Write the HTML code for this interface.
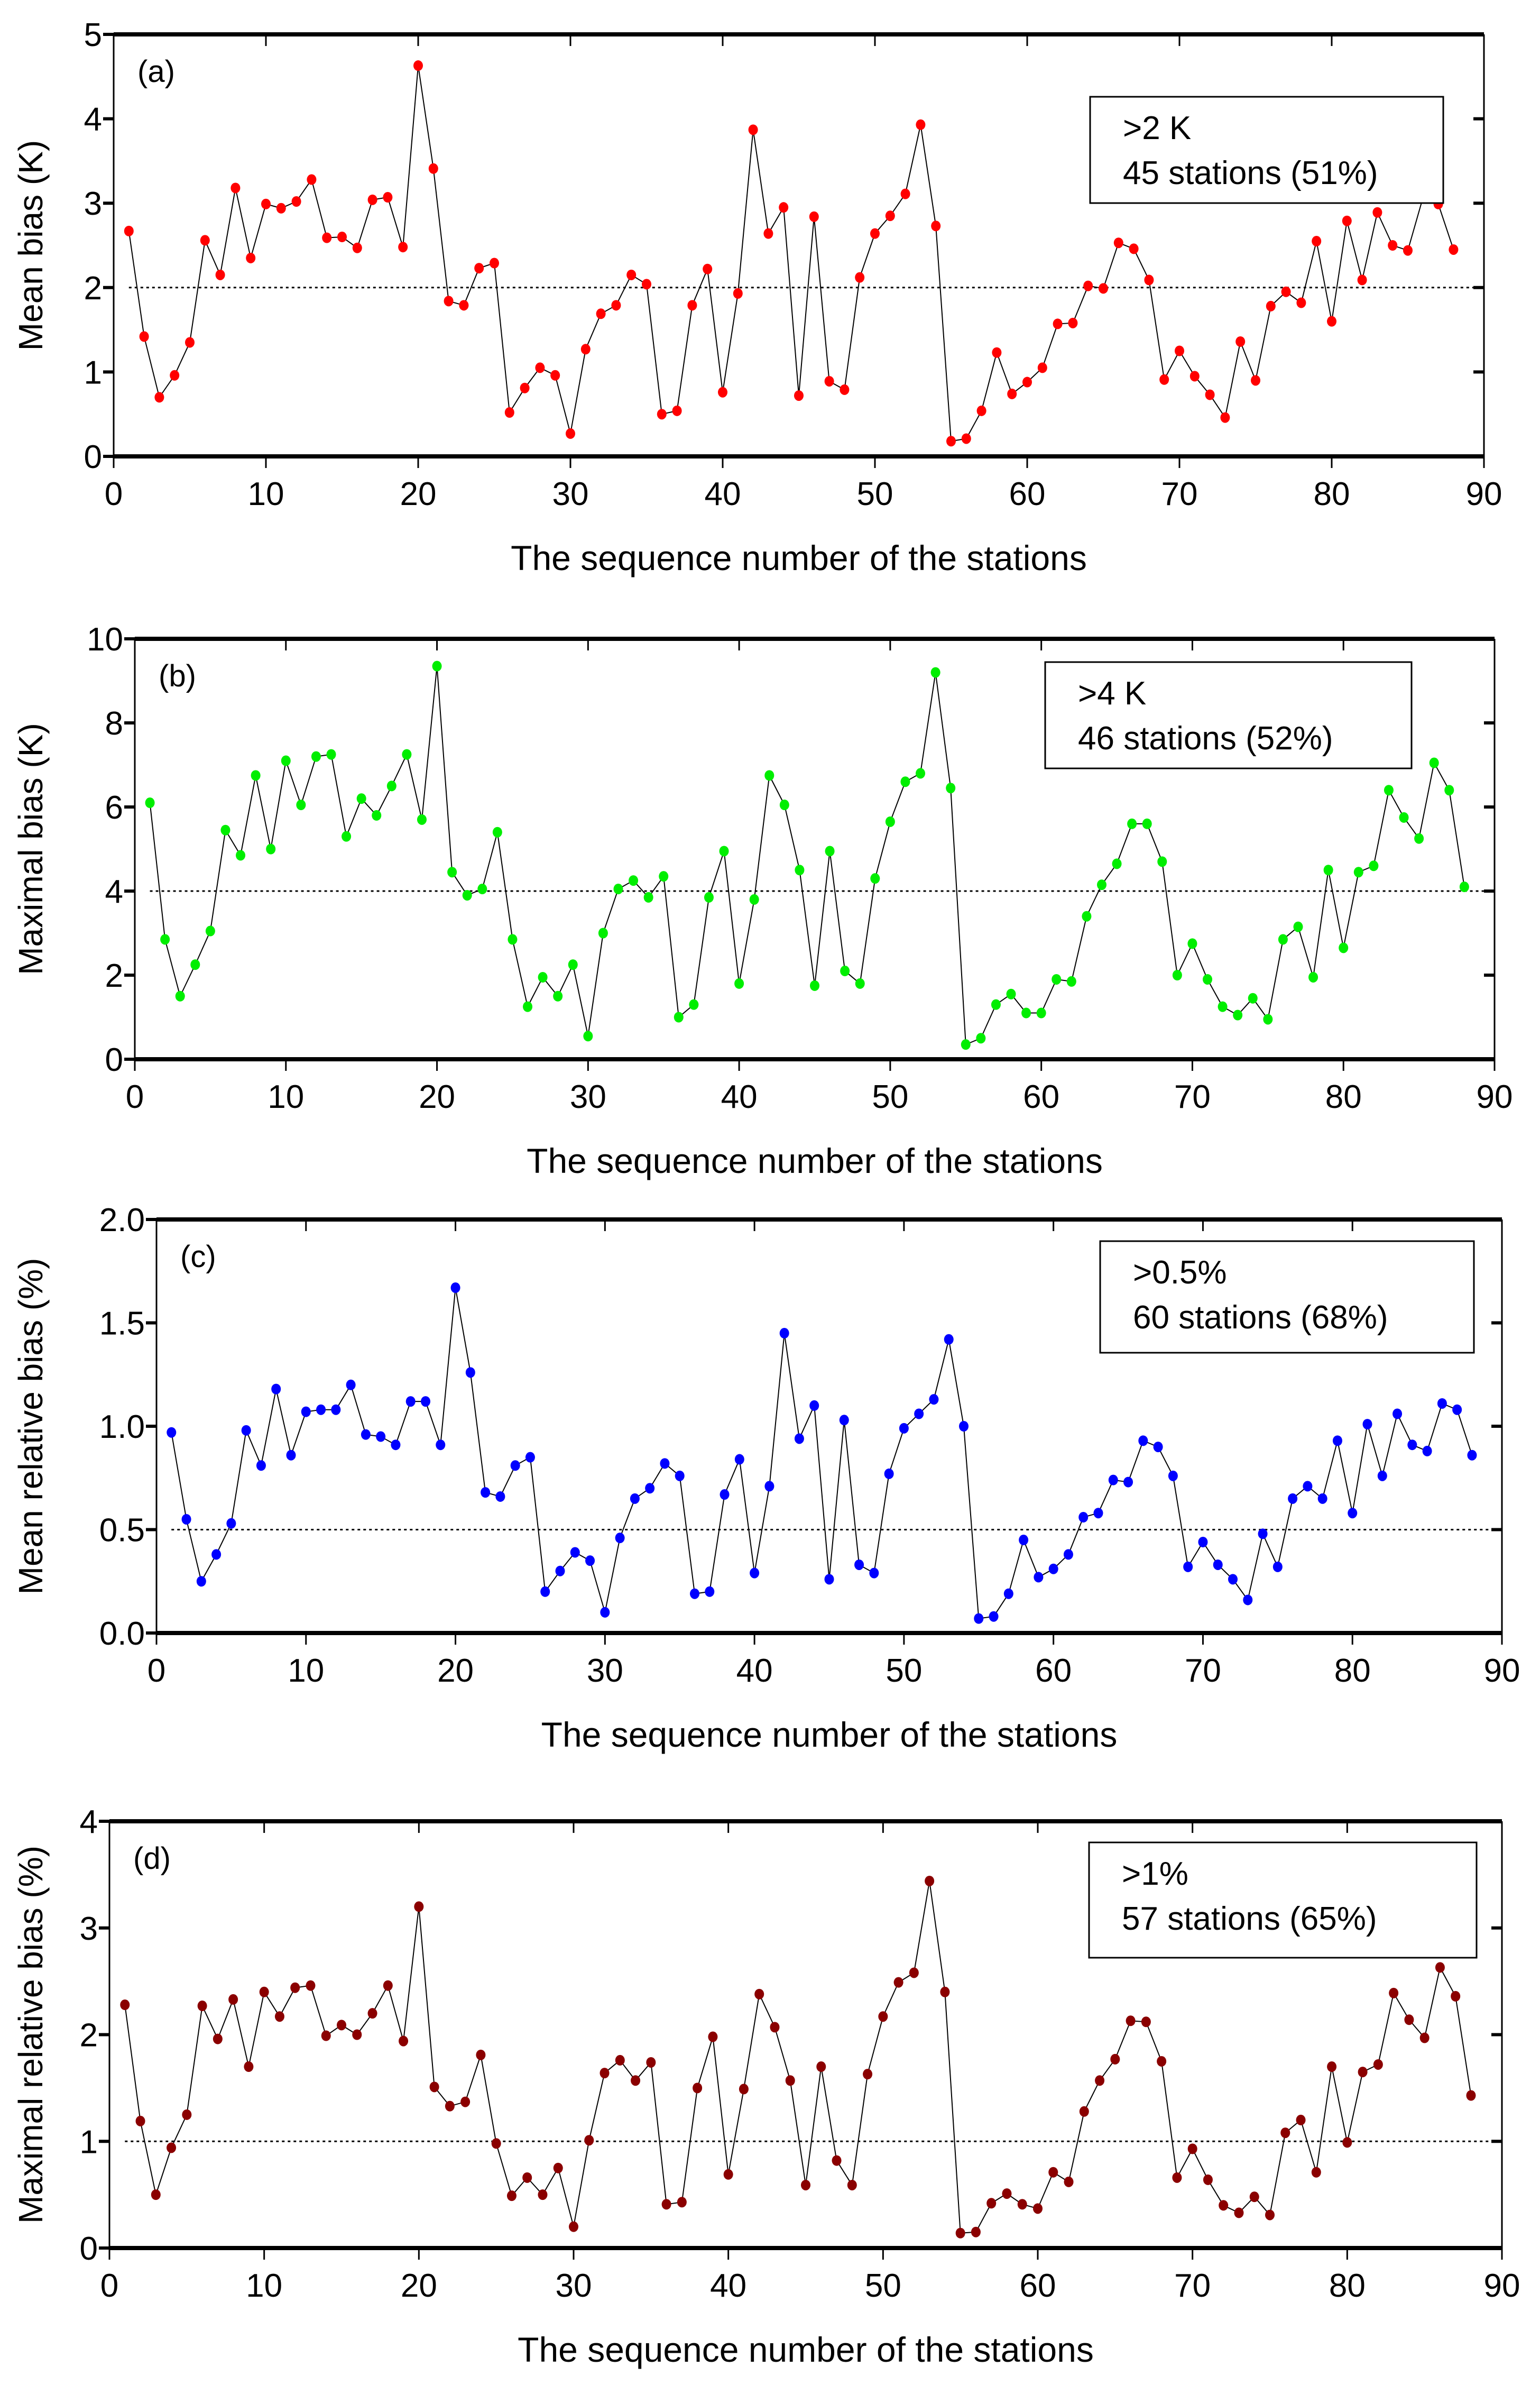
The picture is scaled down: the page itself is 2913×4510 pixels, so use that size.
<!DOCTYPE html>
<html><head><meta charset="utf-8"><style>
html,body{margin:0;padding:0;background:#fff}
svg{display:block}
text{font-family:"Liberation Sans",Arial,sans-serif;fill:#000}
</style></head><body>
<svg id="fig" width="2913" height="4510" viewBox="0 0 2913 4510" xmlns="http://www.w3.org/2000/svg"></svg>
<script>
const stations = Array.from({length:88},(_,i)=>i+1);
const meanBias = [2.67,1.42,0.70,0.96,1.35,2.56,2.15,3.18,2.35,2.99,2.94,3.02,3.28,2.59,2.60,2.47,3.04,3.07,2.48,4.63,3.41,1.84,1.79,2.23,2.29,0.52,0.81,1.05,0.96,0.27,1.27,1.69,1.79,2.15,2.04,0.50,0.54,1.79,2.22,0.76,1.93,3.87,2.64,2.95,0.72,2.84,0.89,0.79,2.12,2.64,2.85,3.11,3.93,2.73,0.18,0.21,0.54,1.23,0.74,0.88,1.05,1.57,1.58,2.02,1.99,2.53,2.46,2.09,0.91,1.25,0.95,0.73,0.46,1.36,0.90,1.78,1.95,1.82,2.55,1.60,2.79,2.09,2.89,2.50,2.44,3.07,2.99,2.45];
const maxBias = [6.1,2.85,1.5,2.25,3.05,5.45,4.85,6.75,5.0,7.1,6.05,7.2,7.25,5.3,6.2,5.8,6.5,7.25,5.7,9.35,4.45,3.9,4.05,5.4,2.85,1.25,1.95,1.5,2.25,0.55,3.0,4.05,4.25,3.85,4.35,1.0,1.3,3.85,4.95,1.8,3.8,6.75,6.05,4.5,1.75,4.95,2.1,1.8,4.3,5.65,6.6,6.8,9.2,6.45,0.35,0.5,1.3,1.55,1.1,1.1,1.9,1.85,3.4,4.15,4.65,5.6,5.6,4.7,2.0,2.75,1.9,1.25,1.05,1.45,0.95,2.85,3.15,1.95,4.5,2.65,4.45,4.6,6.4,5.75,5.25,7.05,6.4,4.1];
const meanRel = [0.97,0.55,0.25,0.38,0.53,0.98,0.81,1.18,0.86,1.07,1.08,1.08,1.20,0.96,0.95,0.91,1.12,1.12,0.91,1.67,1.26,0.68,0.66,0.81,0.85,0.20,0.30,0.39,0.35,0.10,0.46,0.65,0.70,0.82,0.76,0.19,0.20,0.67,0.84,0.29,0.71,1.45,0.94,1.10,0.26,1.03,0.33,0.29,0.77,0.99,1.06,1.13,1.42,1.00,0.07,0.08,0.19,0.45,0.27,0.31,0.38,0.56,0.58,0.74,0.73,0.93,0.90,0.76,0.32,0.44,0.33,0.26,0.16,0.48,0.32,0.65,0.71,0.65,0.93,0.58,1.01,0.76,1.06,0.91,0.88,1.11,1.08,0.86];
const maxRel = [2.28,1.19,0.50,0.94,1.25,2.27,1.96,2.33,1.70,2.40,2.17,2.44,2.46,1.99,2.09,2.00,2.20,2.46,1.94,3.20,1.51,1.33,1.37,1.81,0.98,0.49,0.66,0.50,0.75,0.20,1.01,1.64,1.76,1.57,1.74,0.41,0.43,1.50,1.98,0.69,1.49,2.38,2.07,1.57,0.59,1.70,0.82,0.59,1.63,2.17,2.49,2.58,3.44,2.40,0.14,0.15,0.42,0.51,0.41,0.37,0.71,0.62,1.28,1.57,1.77,2.13,2.12,1.75,0.66,0.93,0.64,0.40,0.33,0.48,0.31,1.08,1.20,0.71,1.70,0.99,1.65,1.72,2.39,2.14,1.97,2.63,2.36,1.43];
const xTicks = [0,10,20,30,40,50,60,70,80,90];
const yTicksA = ["0","1","2","3","4","5"];
const yTicksB = ["0","2","4","6","8","10"];
const yTicksC = ["0.0","0.5","1.0","1.5","2.0"];
const yTicksD = ["0","1","2","3","4"];
const thresholds = [2,4,0.5,1];
const panels = [
 {id:'a',data:meanBias,ticks:yTicksA,ymax:5,thr:thresholds[0],color:'#ff0000',L:215,R:2807,T:65,B:863,ytitle:'Mean bias (K)',leg:['>2 K','45 stations (51%)'],box:[2062,183,2730,384]},
 {id:'b',data:maxBias,ticks:yTicksB,ymax:10,thr:thresholds[1],color:'#00ee00',L:255,R:2827,T:1208,B:2003,ytitle:'Maximal bias (K)',leg:['>4 K','46 stations (52%)'],box:[1977,1252,2670,1453]},
 {id:'c',data:meanRel,ticks:yTicksC,ymax:2,thr:thresholds[2],color:'#0000ff',L:296,R:2841,T:2306,B:3088,ytitle:'Mean relative bias (%)',leg:['>0.5%','60 stations (68%)'],box:[2081,2347,2788,2558]},
 {id:'d',data:maxRel,ticks:yTicksD,ymax:4,thr:thresholds[3],color:'#8b0000',L:207,R:2841,T:3444,B:4251,ytitle:'Maximal relative bias (%)',leg:['>1%','57 stations (65%)'],box:[2060,3484,2793,3702]}
];
const NS='http://www.w3.org/2000/svg';
const svg=document.getElementById('fig');
function mk(tag,attrs,parent){const e=document.createElementNS(NS,tag);for(const k in attrs)e.setAttribute(k,attrs[k]);(parent||svg).appendChild(e);return e;}
panels.forEach(p=>{
 const g=mk('g',{});
 
 
 const xs=v=>p.L+(v/90)*(p.R-p.L);
 const ys=v=>p.B-(v/p.ymax)*(p.B-p.T);
 const th=mk('line',{x1:xs(1),x2:p.R-10,y1:ys(p.thr),y2:ys(p.thr),stroke:'#000','stroke-width':3,'stroke-dasharray':'5,6'},g);
 
 
 const pts=p.data.map((v,i)=>xs(stations[i])+','+ys(v)).join(' ');
 const pl=mk('polyline',{points:pts,fill:'none',stroke:'#000','stroke-width':2},g);
 
 
 p.data.forEach((v,i)=>{
  const c=mk('ellipse',{cx:xs(stations[i]),cy:ys(v),rx:9,ry:10,fill:p.color},g);
  
  
 });
 mk('line',{x1:p.L,x2:p.R,y1:p.T,y2:p.T,stroke:'#000','stroke-width':8},g);
 mk('line',{x1:p.L,x2:p.R,y1:p.B,y2:p.B,stroke:'#000','stroke-width':8},g);
 mk('line',{x1:p.L,x2:p.L,y1:p.T,y2:p.B,stroke:'#000','stroke-width':3},g);
 mk('line',{x1:p.R,x2:p.R,y1:p.T,y2:p.B,stroke:'#000','stroke-width':3},g);
 xTicks.forEach(t=>{
  const x=xs(t);
  mk('line',{x1:x,x2:x,y1:p.B,y2:p.B+22,stroke:'#000','stroke-width':3},g);
  mk('line',{x1:x,x2:x,y1:p.T,y2:p.T+22,stroke:'#000','stroke-width':3},g);
  const tx=mk('text',{x:x,y:p.B+92,'font-size':62,'text-anchor':'middle'},g);
  tx.textContent=t;
  
  
 });
 p.ticks.forEach(s=>{
  const y=ys(parseFloat(s));
  mk('line',{x1:p.L-20,x2:p.L,y1:y,y2:y,stroke:'#000','stroke-width':6},g);
  mk('line',{x1:p.R-20,x2:p.R,y1:y,y2:y,stroke:'#000','stroke-width':6},g);
  const ty=mk('text',{x:p.L-22,y:y+22,'font-size':62,'text-anchor':'end'},g);
  ty.textContent=s;
  
  
 });
 const xt=mk('text',{x:(p.L+p.R)/2,y:p.B+215,'font-size':66,'text-anchor':'middle'},g);
 xt.textContent='The sequence number of the stations';
 
 
 const cy=(p.T+p.B)/2;
 const yt=mk('text',{x:0,y:0,'font-size':64,'text-anchor':'middle',transform:`translate(80,${cy}) rotate(-90)`},g);
 yt.textContent=p.ytitle;
 
 
 const pl2=mk('text',{x:p.L+45,y:p.T+90,'font-size':58},g);
 pl2.textContent='('+p.id+')';
 
 
 const b=p.box;
 const lg=mk('g',{},g);
 
 
 mk('rect',{x:b[0],y:b[1],width:b[2]-b[0],height:b[3]-b[1],fill:'#fff',stroke:'#000','stroke-width':3},lg);
 const l1=mk('text',{x:b[0]+62,y:b[1]+80,'font-size':62},lg);
 l1.textContent=p.leg[0];
 
 
 const l2=mk('text',{x:b[0]+62,y:b[1]+165,'font-size':62},lg);
 l2.textContent=p.leg[1];
 
 
});
</script>
</body></html>
